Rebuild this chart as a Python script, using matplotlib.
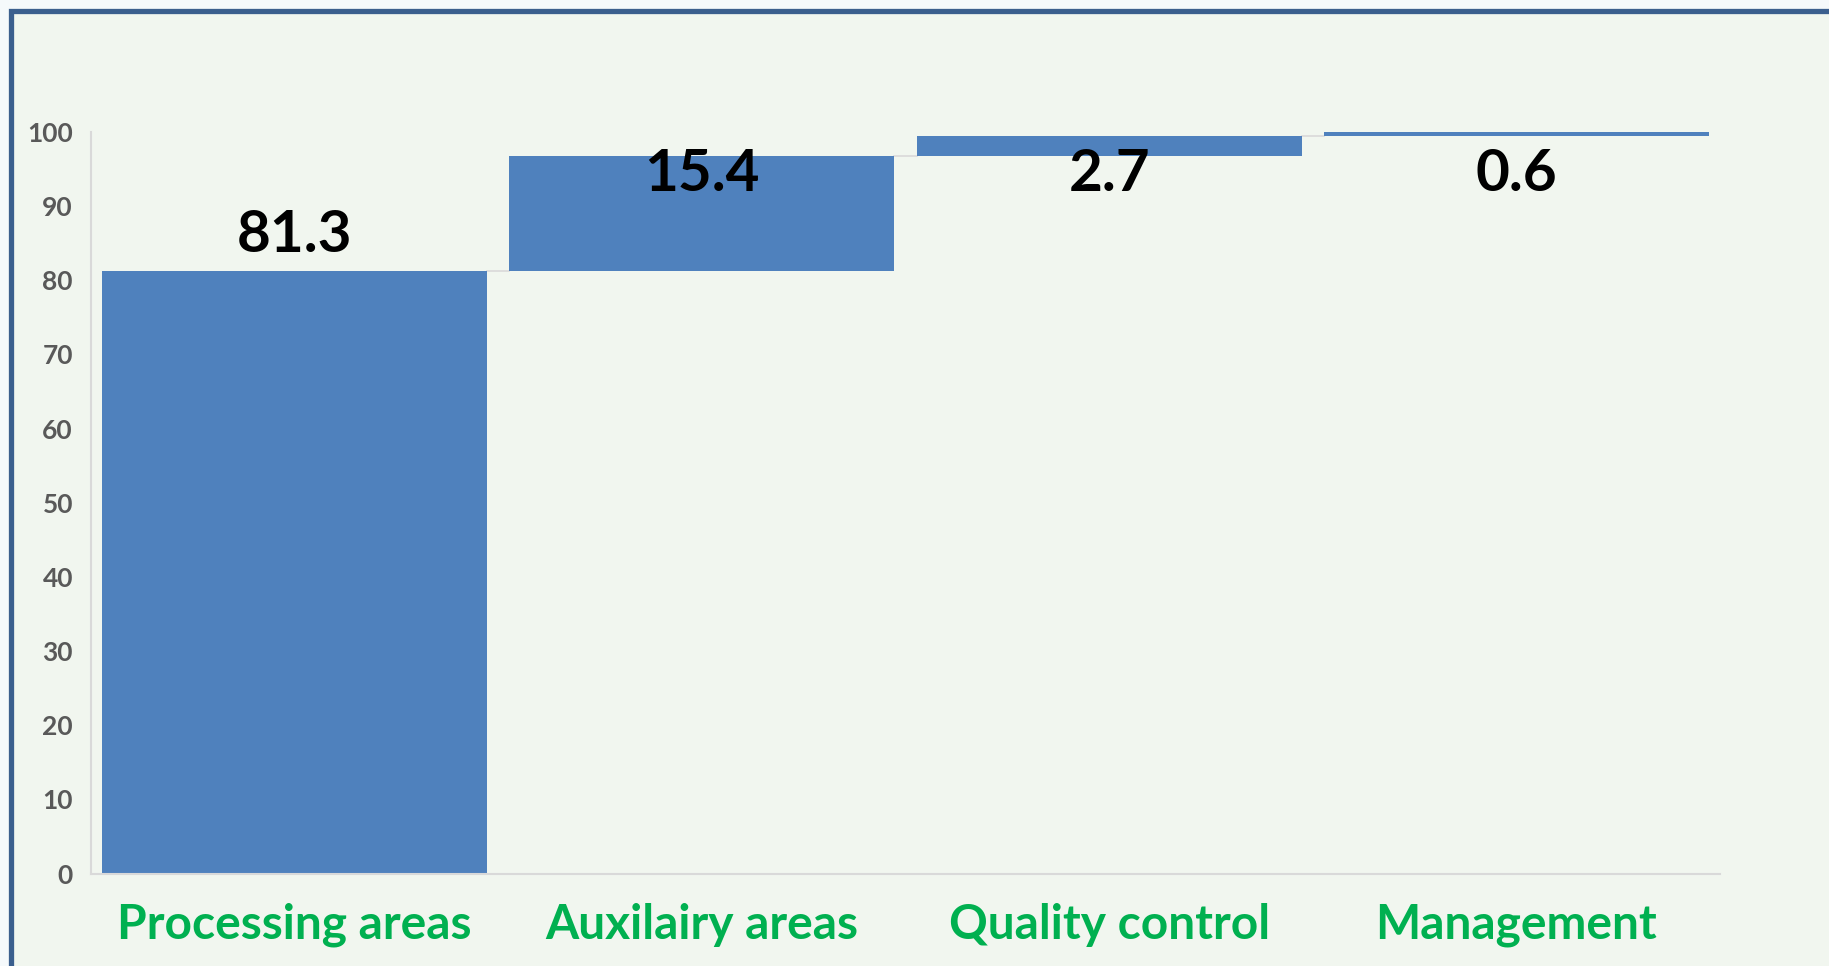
# Waterfall chart: share of each area
import matplotlib.pyplot as plt
from matplotlib.patches import Rectangle

categories = ['Processing areas', 'Auxilairy areas', 'Quality control', 'Management']
values = [81.3, 15.4, 2.7, 0.6]
y_ticks = [0, 10, 20, 30, 40, 50, 60, 70, 80, 90, 100]

bar_color = '#4F81BD'
label_green = '#00B050'
grid_gray = '#D9D9D9'
W, H = 1829, 966

fig = plt.figure(figsize=(W / 100, H / 100), dpi=100)
fig.patch.set_facecolor('#F5F9FB')

# frame of the chart area (runs past the right and bottom edges)
frame = Rectangle((10.5 / W, -0.05), 1.1, 1 - 10.5 / H + 0.05, transform=fig.transFigure,
                  facecolor='#F1F6EF', edgecolor='#3B5F8E', linewidth=3.8, zorder=-5)
fig.patches.append(frame)

ax = fig.add_axes([91 / W, (H - 873.5) / H, (1720 - 91) / W, (873.5 - 132) / H])
ax.set_facecolor('none')
ax.set_zorder(2)

# bases of the floating bars
bases = []
total = 0
for v in values:
    bases.append(total)
    total += v

x = range(len(categories))
bar_w = 0.945
ax.bar(x, values, bottom=bases, width=bar_w, color=bar_color, zorder=2)

# connector lines between bars
for i in range(len(values) - 1):
    level = bases[i] + values[i]
    ax.plot([i + bar_w / 2, i + 1 - bar_w / 2], [level, level], color=grid_gray, lw=1.2, zorder=1)

# value labels
for i, v in enumerate(values):
    top = bases[i] + v
    ax.text(i, min(top + 2.5, 92.0), f'{v:.1f}', ha='center', va='baseline',
            fontsize=42, fontweight='bold', family='Lato', color='black', zorder=3)

ax.set_xlim(-0.5, len(categories) - 0.5)
ax.set_ylim(0, 100)
ax.set_yticks(y_ticks)
ax.set_xticks(list(x))
ax.set_xticklabels(categories, fontsize=34.5, fontweight='bold', family='Lato', color=label_green)
for lab in ax.get_yticklabels():
    lab.set_family('Lato')
    lab.set_fontweight('bold')
    lab.set_fontsize(19)
    lab.set_color('#595959')
ax.tick_params(axis='y', length=0, pad=13)
ax.tick_params(axis='x', length=0, pad=21)

for s in ['top', 'right']:
    ax.spines[s].set_visible(False)
for s in ['left', 'bottom']:
    ax.spines[s].set_color(grid_gray)
    ax.spines[s].set_linewidth(1.5)

plt.savefig('out.png', dpi=100, facecolor=fig.get_facecolor())
